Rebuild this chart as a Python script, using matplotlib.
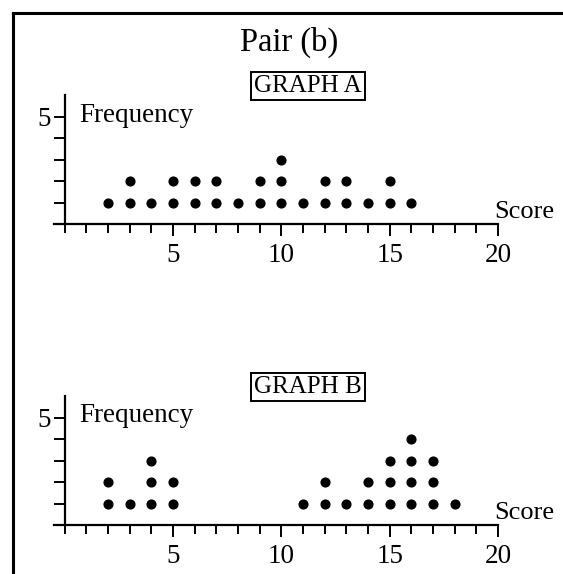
import matplotlib
matplotlib.use("Agg")
import matplotlib.pyplot as plt
from matplotlib.lines import Line2D
from matplotlib.ticker import MultipleLocator

plt.rcParams["font.family"] = ["Liberation Serif", "DejaVu Serif"]

W, H = 563, 574

# Dot-plot data: score -> number of dots
scores_a = [2, 3, 4, 5, 6, 7, 8, 9, 10, 11, 12, 13, 14, 15, 16]
counts_a = [1, 2, 1, 2, 2, 2, 1, 2, 3, 1, 2, 2, 1, 2, 1]

scores_b = [2, 3, 4, 5, 11, 12, 13, 14, 15, 16, 17, 18]
counts_b = [2, 1, 3, 2, 1, 2, 1, 2, 3, 4, 3, 1]

x_tick_labels = ["5", "10", "15", "20"]
x_tick_values = [5, 10, 15, 20]

title = "Pair (b)"
panel_names = ["GRAPH A", "GRAPH B"]

fig = plt.figure(figsize=(W / 100, H / 100), dpi=100)


def px(x, y):
    return x / W, 1 - y / H


def make_panel(top_px, zero_px, name, box_y, scores, counts):
    left, right = 54, 498
    l, b = px(left, zero_px)
    r, t = px(right, top_px)
    ax = fig.add_axes([l, b, r - l, t - b])
    ax.set_xlim(-0.5, 20)
    ax.set_ylim(0, 6)
    for s in ["top", "right"]:
        ax.spines[s].set_visible(False)
    ax.spines["left"].set_position(("data", 0))
    ax.spines["left"].set_linewidth(1.6)
    ax.spines["bottom"].set_linewidth(1.6)
    ax.patch.set_alpha(0)

    ax.set_xticks(x_tick_values)
    ax.set_xticklabels(x_tick_labels, fontsize=19.5)
    ax.xaxis.set_minor_locator(MultipleLocator(1))
    ax.tick_params(axis="x", which="major", direction="out", length=8.6, width=1.4, pad=5)
    ax.tick_params(axis="x", which="minor", direction="out", length=6.5, width=1.4)

    ax.set_yticks([1, 2, 3, 4, 5])
    ax.set_yticklabels(["", "", "", "", "5"], fontsize=19.5)
    ax.tick_params(axis="y", direction="out", length=8, width=1.4, pad=2)

    xs, ys = [], []
    for s, c in zip(scores, counts):
        for k in range(1, c + 1):
            xs.append(s)
            ys.append(k)
    ax.plot(xs, ys, "o", color="black", markersize=6.3, linestyle="none")

    fig.text(*px(79, top_px + 20), "Frequency", fontsize=19.5,
             ha="left", va="center")
    fig.text(*px(494, zero_px - 12), "Score", fontsize=19,
             ha="left", va="center")
    fig.text(*px(308, box_y), name, fontsize=18, ha="center", va="center",
             bbox=dict(boxstyle="square,pad=0.12", facecolor="white",
                       edgecolor="black", linewidth=1.4))
    return ax


fig.text(*px(289, 42), title, fontsize=23.5, ha="center", va="center")

make_panel(95, 224, panel_names[0], 86, scores_a, counts_a)
make_panel(396, 525, panel_names[1], 387, scores_b, counts_b)

# Frame lines along the top and left edges
fig.add_artist(Line2D([12.5 / W, 1], [1 - 13 / H, 1 - 13 / H],
                      transform=fig.transFigure, color="black", linewidth=2.2))
fig.add_artist(Line2D([12.5 / W, 12.5 / W], [1 - 13 / H, 0],
                      transform=fig.transFigure, color="black", linewidth=2.2))

fig.savefig("out.png", dpi=100)
